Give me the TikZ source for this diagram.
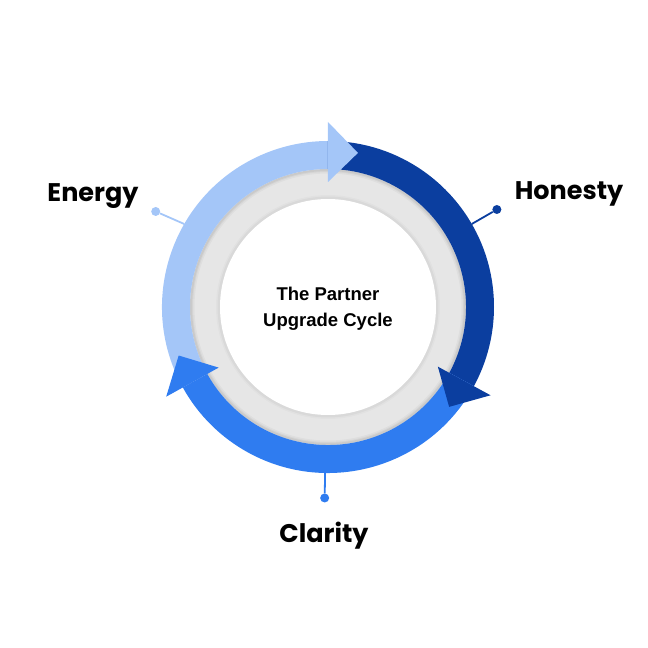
\documentclass[tikz,border=0pt]{standalone}
\usepackage{fontspec}
\newfontfamily\lblfont{Poppins}
\newfontfamily\ctrfont{Liberation Sans}
\definecolor{cLight}{HTML}{A4C6F8}
\definecolor{cDark}{HTML}{0B3E9F}
\definecolor{cMid}{HTML}{2F7CF0}
\definecolor{cRing}{HTML}{E6E6E6}

\begin{document}
\begin{tikzpicture}[x=1pt, y=1pt,
  lbl/.style={font=\lblfont\bfseries\fontsize{25.5}{30}\selectfont, anchor=base},
  pin/.style={circle, fill=#1, inner sep=0pt, minimum size=9pt},
  stem/.style={#1, line width=1.8pt}]
  \useasboundingbox (-328,-341) rectangle (320,307);
  \def\Ro{166} \def\Ri{138} \def\Rw{108}

  % anel cinza com sombra suave
  \fill[cRing] (0,0) circle (\Ri);
  \foreach \w/\o in {7/0.03, 4/0.04, 2/0.05}
    \draw[black, opacity=\o, line width=\w pt] (0,0) circle (\Ri-1);
  \foreach \w/\o in {6/0.02, 3/0.03}
    \draw[black, opacity=\o, line width=\w pt] (0,0) circle (\Rw+1);
  \fill[white] (0,0) circle (\Rw);

  % corpos das setas
  \foreach \c/\a/\b in {cLight/209/90, cDark/90/-28.5, cMid/-28.5/-151}
    \fill[\c] (\a:\Ro) arc[start angle=\a, end angle=\b, radius=\Ro]
      -- (\b:\Ri) arc[start angle=\b, end angle=\a, radius=\Ri] -- cycle;
  % pontas
  \foreach \c/\b in {cLight/90, cDark/-28.5, cMid/-151}
    \fill[\c] (\b:185) -- ({\b-11}:157) -- (\b:125) -- cycle;

  % marcadores
  \coordinate (eBase) at (150:\Ro);
  \node[pin=cLight] (eDot) at (151:197) {};
  \draw[stem=cLight] (eBase) -- (eDot);
  \node[lbl] (energy) at (-235,105) {Energy};

  \coordinate (hBase) at (30:\Ro);
  \node[pin=cDark] (hDot) at (30:195) {};
  \draw[stem=cDark] (hBase) -- (hDot);
  \node[lbl] (honesty) at (241,107) {Honesty};

  \coordinate (cBase) at (-91:\Ro);
  \node[pin=cMid] (cDot) at (-91:191) {};
  \draw[stem=cMid] (cBase) -- (cDot);
  \node[lbl] (clarity) at (-4,-235) {Clarity};

  \node[font=\ctrfont\bfseries\fontsize{18.5}{26}\selectfont, align=center] (title) at (0,-2)
    {The Partner\\Upgrade Cycle};
\end{tikzpicture}
\end{document}
